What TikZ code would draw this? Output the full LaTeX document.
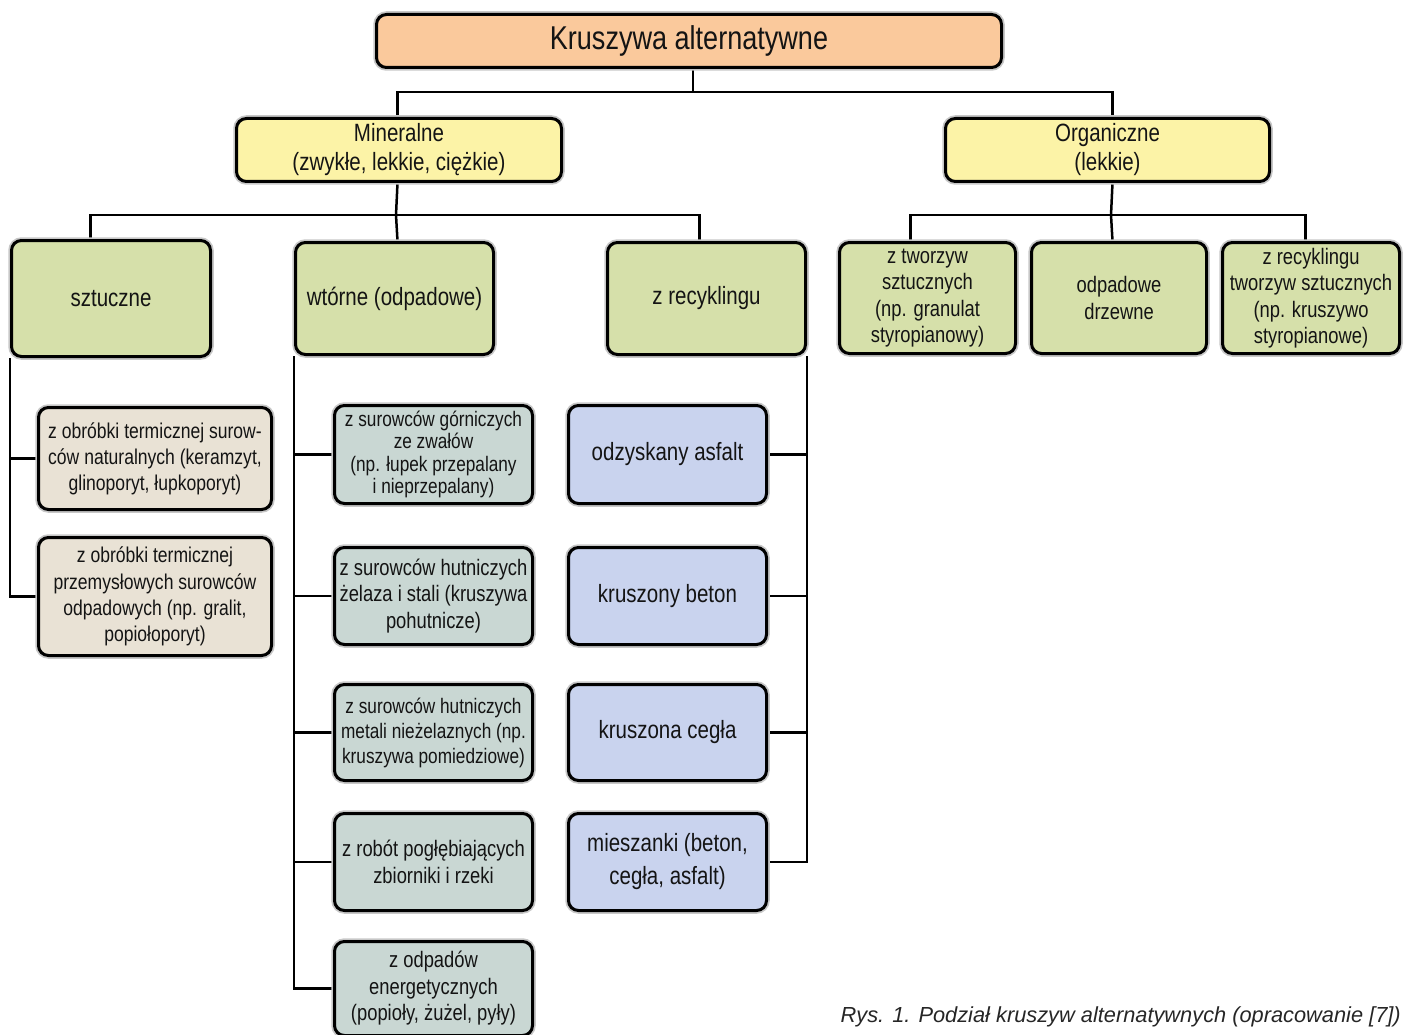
\documentclass[tikz,border=0pt]{standalone}
\usepackage{fontspec}
\setmainfont{Liberation Sans}[FakeStretch=0.82]
\newfontfamily\capfont{Liberation Sans}
\usetikzlibrary{backgrounds}
\definecolor{cOrange}{HTML}{FAC99C}
\definecolor{cYellow}{HTML}{FCF3A7}
\definecolor{cGreen}{HTML}{D6E0AA}
\definecolor{cBeige}{HTML}{E9E2D5}
\definecolor{cTeal}{HTML}{C9D7D3}
\definecolor{cBlue}{HTML}{C9D3EE}
\tikzset{
  box/.style={draw=black, line width=3pt, rounded corners=10pt, text=black!92,
    align=center, inner sep=0pt, anchor=north west,
    preaction={draw=black!22, line width=6.5pt}},
  conn/.style={line width=2.5pt, draw=black},
  fbig/.style={font=\fontsize{33}{36}\selectfont},
  fmid/.style={font=\fontsize{25}{29}\selectfont},
  fsm/.style={font=\fontsize{22.4}{26.5}\selectfont},
}
\begin{document}
\begin{tikzpicture}[x=1pt,y=-1pt]
\useasboundingbox (0,0) rectangle (1405,1035);
% top level
\node[box, fill=cOrange, fbig, minimum width=625pt, minimum height=53pt] (top) at (375,13) {Kruszywa alternatywne};
\node[box, fill=cYellow, fmid, minimum width=325pt, minimum height=63pt] (min) at (235,117) {Mineralne\\(zwykłe, lekkie, ciężkie)};
\node[box, fill=cYellow, fmid, minimum width=324pt, minimum height=63pt] (org) at (944,117) {Organiczne\\(lekkie)};
% mineral children
\node[box, fill=cGreen, fmid, minimum width=199pt, minimum height=116pt] (sz) at (10,239) {sztuczne};
\node[box, fill=cGreen, fmid, minimum width=198pt, minimum height=112pt] (wt) at (294,241) {wtórne (odpadowe)};
\node[box, fill=cGreen, fmid, minimum width=198pt, minimum height=112pt] (zr) at (606,241) {z recyklingu};
% organic children
\node[box, fill=cGreen, fsm, minimum width=176pt, minimum height=111pt] (o1) at (838,241) {z tworzyw\\sztucznych\\(np. granulat\\styropianowy)};
\node[box, fill=cGreen, fsm, minimum width=175pt, minimum height=111pt] (o2) at (1030,241) {odpadowe\\drzewne};
\node[box, fill=cGreen, fsm, minimum width=177pt, minimum height=111pt] (o3) at (1221,241) {z recyklingu\\tworzyw sztucznych\\(np. kruszywo\\styropianowe)};
% sztuczne children
\node[box, fill=cBeige, font=\fontsize{21.4}{26}\selectfont, minimum width=233pt, minimum height=102pt] (a1) at (37,406) {z obróbki termicznej surow-\\ców naturalnych (keramzyt,\\glinoporyt, łupkoporyt)};
\node[box, fill=cBeige, font=\fontsize{21.4}{26.3}\selectfont, minimum width=233pt, minimum height=118pt] (a2) at (37,536) {z obróbki termicznej\\przemysłowych surowców\\odpadowych (np. gralit,\\popiołoporyt)};
% wtorne children
\node[box, fill=cTeal, font=\fontsize{21}{22.5}\selectfont, minimum width=198pt, minimum height=98pt] (b1) at (333,404) {z surowców górniczych\\ze zwałów\\(np. łupek przepalany\\i nieprzepalany)};
\node[box, fill=cTeal, fsm, minimum width=198pt, minimum height=97pt] (b2) at (333,546) {z surowców hutniczych\\żelaza i stali (kruszywa\\pohutnicze)};
\node[box, fill=cTeal, font=\fontsize{21}{25}\selectfont, minimum width=198pt, minimum height=96pt] (b3) at (333,683) {z surowców hutniczych\\metali nieżelaznych (np.\\kruszywa pomiedziowe)};
\node[box, fill=cTeal, fsm, minimum width=198pt, minimum height=97pt] (b4) at (333,812) {z robót pogłębiających\\zbiorniki i rzeki};
\node[box, fill=cTeal, fsm, minimum width=198pt, minimum height=94pt] (b5) at (333,940) {z odpadów\\energetycznych\\(popioły, żużel, pyły)};
% recykling children
\node[box, fill=cBlue, fmid, minimum width=198pt, minimum height=98pt] (c1) at (567,404) {odzyskany asfalt};
\node[box, fill=cBlue, fmid, minimum width=198pt, minimum height=97pt] (c2) at (567,546) {kruszony beton};
\node[box, fill=cBlue, fmid, minimum width=198pt, minimum height=96pt] (c3) at (567,683) {kruszona cegła};
\node[box, fill=cBlue, font=\fontsize{25}{33}\selectfont, minimum width=198pt, minimum height=97pt] (c4) at (567,812) {mieszanki (beton,\\cegła, asfalt)};
% caption
\node[anchor=base east, inner sep=0pt, text=black!85, font=\capfont\itshape\fontsize{21.8}{25}\selectfont] (cap) at (1401,1022) {Rys. 1. Podział kruszyw alternatywnych (opracowanie [7])};
% connectors
\begin{scope}[on background layer]
\coordinate (j1) at (693,92);
\coordinate (j2) at (396,215);
\coordinate (j3) at (1111,215);
\draw[conn] (top.south -| j1) -- (j1);
\draw[conn] ([xshift=-1.5pt]min.north) |- (j1) -| ([xshift=5pt]org.north);
\draw[conn] ([xshift=-1.5pt]min.south) -- (j2);
\draw[conn] ([xshift=-20.5pt]sz.north) |- (j2) -| ([xshift=-7pt]zr.north);
\draw[conn] ([xshift=3pt]wt.north) -- (j2);
\draw[conn] ([xshift=5pt]org.south) -- (j3);
\draw[conn] ([xshift=-17pt]o1.north) |- (j3) -| ([xshift=-5.5pt]o3.north);
\draw[conn] ([xshift=-6.5pt]o2.north) -- (j3);
\draw[conn] (sz.south west) |- (a1.west);
\draw[conn] (sz.south west) |- (a2.west);
\foreach \n in {b1,b2,b3,b4,b5} \draw[conn] (wt.south west) |- (\n.west);
\foreach \n in {c1,c2,c3,c4} \draw[conn] (zr.south east) |- (\n.east);
\end{scope}
\end{tikzpicture}
\end{document}
